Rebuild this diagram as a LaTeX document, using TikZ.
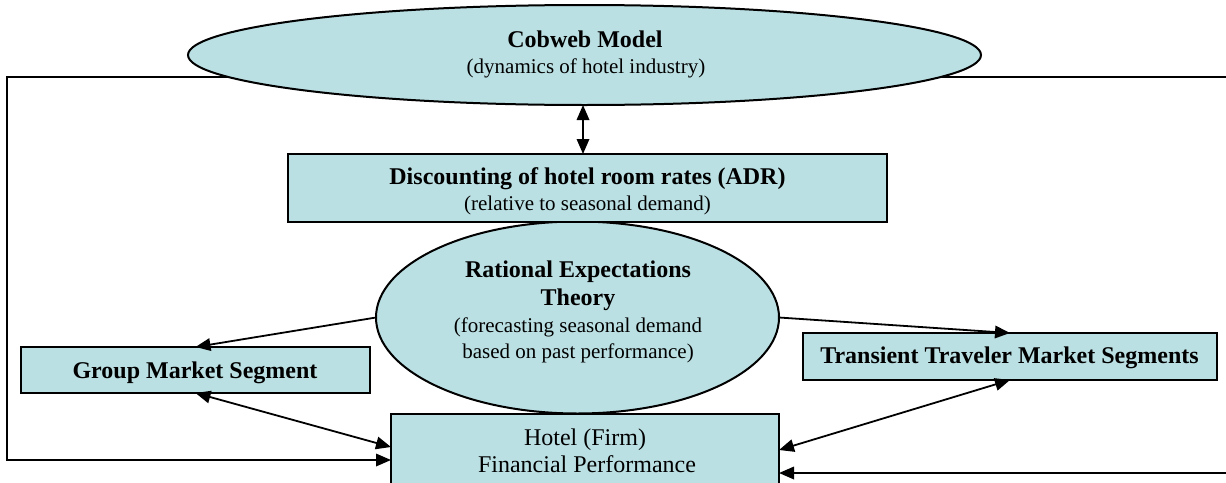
\documentclass[tikz,border=0pt]{standalone}
\usepackage{fontspec}
\setmainfont{Liberation Serif}
\usetikzlibrary{arrows.meta,shapes.geometric,backgrounds}
\definecolor{panelfill}{HTML}{BBE0E3}
\tikzset{hd/.tip={Triangle[length=15pt,width=12.5pt]}}
\begin{document}
\begin{tikzpicture}[x=1pt,y=-1pt,
  panel/.style={draw=black,line width=2pt,fill=panelfill,rectangle,inner sep=0pt,outer sep=0pt},
  oval/.style={draw=black,line width=2pt,fill=panelfill,ellipse,inner sep=0pt,outer sep=0pt},
  ttl/.style={anchor=base,inner sep=0pt,font=\fontsize{24}{28}\selectfont\bfseries},
  sub/.style={anchor=base,inner sep=0pt,font=\fontsize{21}{25}\selectfont},
  plain/.style={anchor=base,inner sep=0pt,font=\fontsize{24}{28}\selectfont},
  link/.style={line width=1.8pt,-hd},
  both/.style={line width=1.8pt,hd-hd}]
\useasboundingbox (0,0) rectangle (1226,482);
\clip (0,0) rectangle (1226,482);

% shapes
\node[oval,minimum width=793pt,minimum height=100pt] (cob) at (584.5,55) {};
\node[oval,minimum width=403pt,minimum height=192pt] (rat) at (577.5,317.5) {};
\node[panel,minimum width=599pt,minimum height=68pt] (adr) at (587.5,188) {};
\node[panel,minimum width=349pt,minimum height=46pt] (grp) at (195.5,370) {};
\node[panel,minimum width=414pt,minimum height=47pt] (trn) at (1010,356.5) {};
\node[panel,minimum width=388pt,minimum height=120pt] (hot) at (585,474) {};

% feedback loops around the whole figure, passing behind the top oval
\coordinate (lft) at (7,300);
\coordinate (rgt) at (1232,300);
\begin{scope}[on background layer]
\draw[link] ([yshift=-22pt]cob.center) -| (lft) |- ([yshift=-46pt]hot.north west);
\draw[link] ([yshift=-22pt]cob.center) -| (rgt) |- ([yshift=-59pt]hot.north east);
\end{scope}

% connectors
\draw[both] ([xshift=-1.5pt]cob.south) -- ([xshift=-1.5pt]cob.south |- adr.north);
\draw[link] (rat.west) -- (grp.north);
\draw[link] (rat.east) -- (trn.north);
\draw[both] (grp.south) -- ([yshift=-33pt]hot.north west);
\draw[both] (trn.south) -- ([yshift=-36pt]hot.north east);

% texts
\node[ttl] (cobT) at (585,47) {Cobweb Model};
\node[sub] (cobS) at (586,73) {(dynamics of hotel industry)};
\node[ttl] (adrT) at (587.5,184) {Discounting of hotel room rates (ADR)};
\node[sub] (adrS) at (587.5,210) {(relative to seasonal demand)};
\node[ttl] (ratT1) at (578,277) {Rational Expectations};
\node[ttl] (ratT2) at (578,305) {Theory};
\node[sub] (ratS1) at (578,332) {(forecasting seasonal demand};
\node[sub] (ratS2) at (578,358) {based on past performance)};
\node[ttl] (grpT) at (195,378) {Group Market Segment};
\node[ttl] (trnT) at (1009.5,363) {Transient Traveler Market Segments};
\node[plain] (hotT1) at (585,445) {Hotel (Firm)};
\node[plain] (hotT2) at (587,472) {Financial Performance};
\end{tikzpicture}
\end{document}
